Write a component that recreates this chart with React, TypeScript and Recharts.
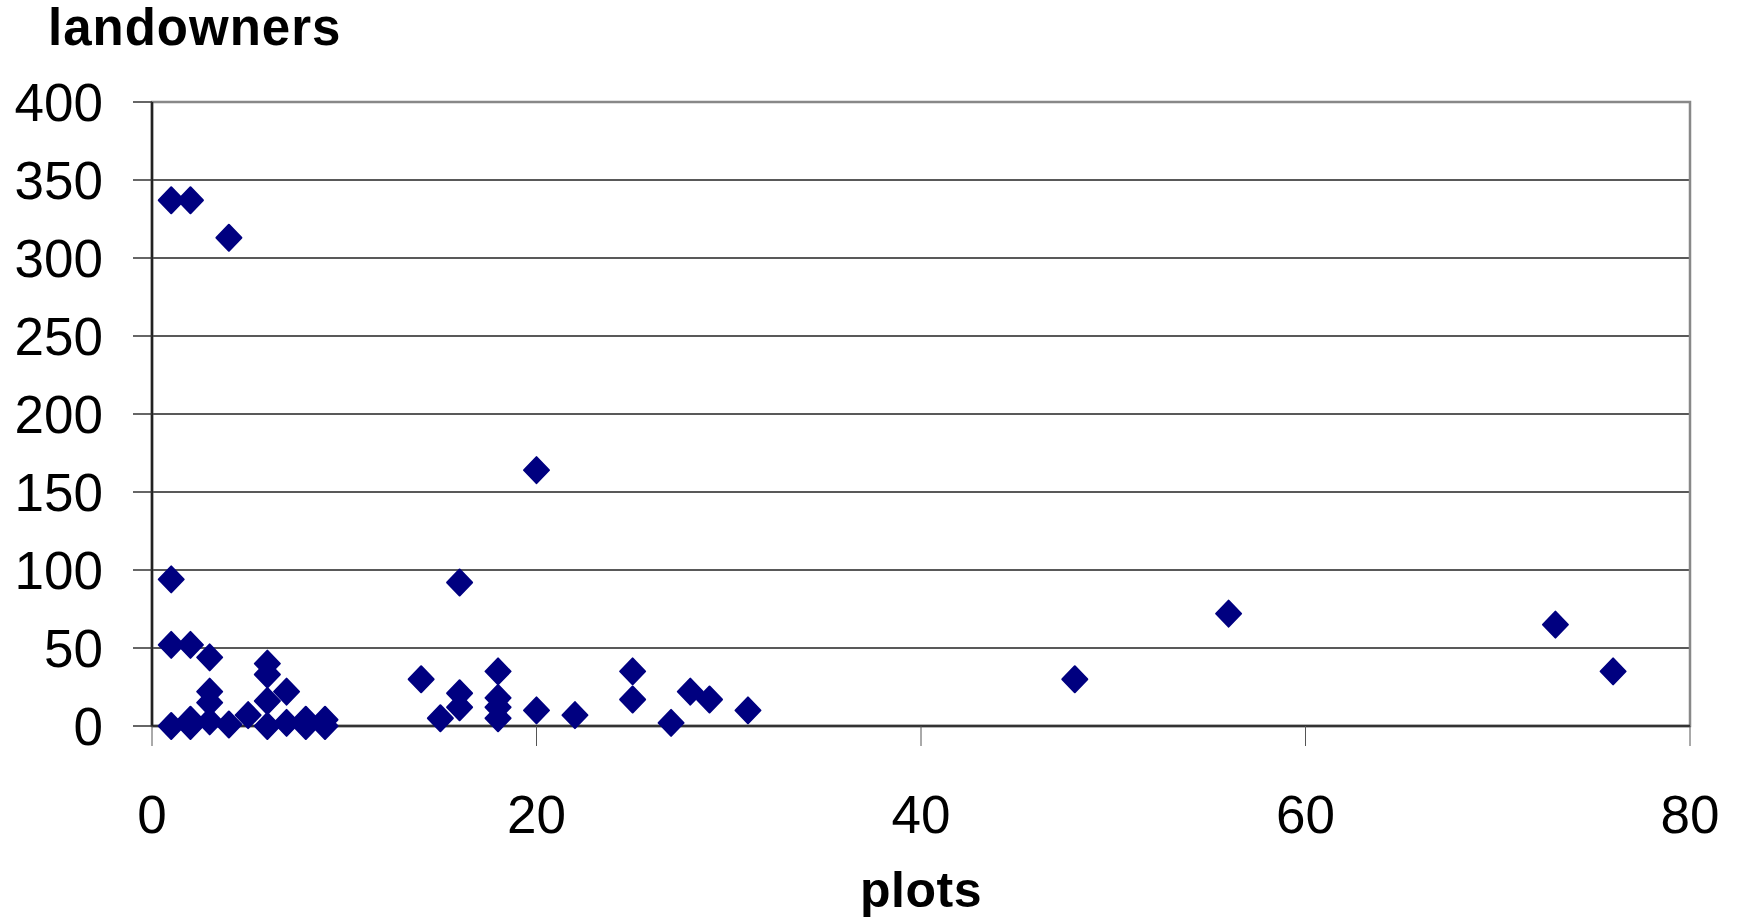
import React from 'react';
import { ScatterChart, Scatter, XAxis, YAxis, CartesianGrid, ReferenceArea } from 'recharts';

// plots per landowner group (x) and number of landowners (y)
const plots = [
  1, 2, 4, 1, 1, 2, 3, 6, 6, 7, 6, 3, 3,
  1, 2, 2, 3, 4, 5, 6, 7, 8, 8, 9, 9,
  14, 15, 16, 16, 16, 18, 18, 18, 18, 20, 20, 22, 25, 25, 27, 28, 29, 31,
  48, 56, 73, 76,
];
const landowners = [
  337, 337, 313, 94, 52, 52, 44, 40, 33, 22, 16, 22, 15,
  0, 4, 0, 3, 1, 7, 0, 2, 4, 0, 4, 0,
  30, 5, 92, 21, 12, 35, 18, 12, 5, 164, 10, 7, 35, 17, 2, 22, 17, 10,
  30, 72, 65, 35,
];
const xTicks = [0, 20, 40, 60, 80];
const yTicks = [0, 50, 100, 150, 200, 250, 300, 350, 400];

const data = plots.map((x, i) => ({ x, y: landowners[i] }));

const FONT = '"Liberation Sans", Arial, sans-serif';

const Diamond = (props: any) => {
  const { cx, cy } = props;
  if (cx == null || cy == null) return null;
  const w = 12.5;
  const h = 13;
  return (
    <path
      d={`M${cx},${cy - h} L${cx + w},${cy} L${cx},${cy + h} L${cx - w},${cy} Z`}
      fill="#000080"
      stroke="#000080"
      strokeWidth={2}
      strokeLinejoin="round"
    />
  );
};

const App: React.FC = () => {
  return (
    <div style={{ position: 'absolute', left: 0, top: 0, width: 1744, height: 918, background: '#fff' }}>
      <ScatterChart
        width={1744}
        height={918}
        margin={{ top: 102, right: 54, bottom: 0, left: 0 }}
      >
        <CartesianGrid vertical={false} stroke="#222" strokeWidth={1.5} />
        <ReferenceArea
          x1={0}
          x2={80}
          y1={0}
          y2={400}
          fill="none"
          fillOpacity={0}
          stroke="#888"
          strokeWidth={2.5}
          ifOverflow="visible"
        />
        <XAxis
          type="number"
          dataKey="x"
          domain={[0, 80]}
          ticks={xTicks}
          height={192}
          tickSize={20}
          tickMargin={49}
          axisLine={{ stroke: '#333', strokeWidth: 2.5 }}
          tickLine={{ stroke: '#555', strokeWidth: 1 }}
          tick={{ fill: '#000', fontSize: 53, fontFamily: FONT }}
          interval={0}
        />
        <YAxis
          type="number"
          dataKey="y"
          domain={[0, 400]}
          ticks={yTicks}
          width={152}
          tickSize={19}
          tickMargin={30}
          axisLine={{ stroke: '#222', strokeWidth: 2.5 }}
          tickLine={{ stroke: '#333', strokeWidth: 1.5 }}
          tick={{ fill: '#000', fontSize: 53, fontFamily: FONT }}
          interval={0}
        />
        <Scatter data={data} shape={Diamond} isAnimationActive={false} />
      </ScatterChart>
      <svg
        width={1744}
        height={918}
        style={{ position: 'absolute', left: 0, top: 0, pointerEvents: 'none' }}
      >
        <text x={48} y={45} fontFamily={FONT} fontWeight="bold" fontSize={51} letterSpacing={1} fill="#000">
          landowners
        </text>
        <text x={921} y={907} textAnchor="middle" fontFamily={FONT} fontWeight="bold" fontSize={50} letterSpacing={0.5} fill="#000">
          plots
        </text>
      </svg>
    </div>
  );
};

export default App;
